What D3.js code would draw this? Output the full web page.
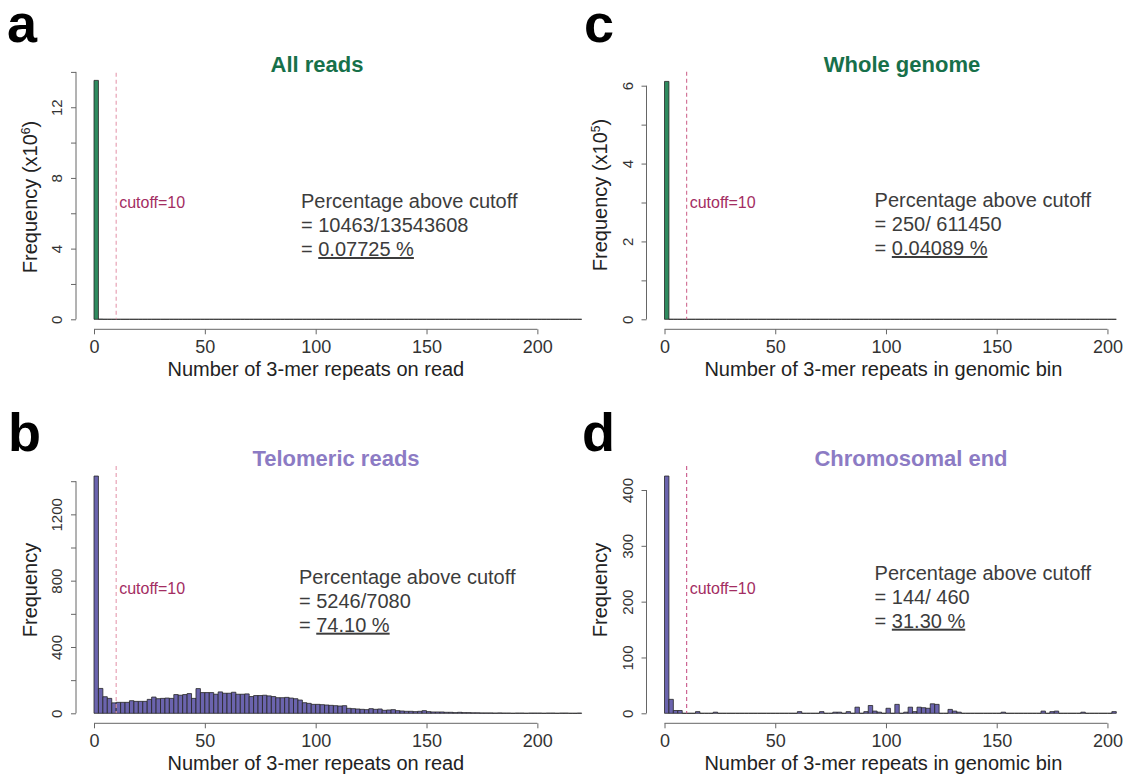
<!DOCTYPE html>
<html>
<head>
<meta charset="utf-8">
<script src="https://cdn.jsdelivr.net/npm/d3@7"></script>
<style>
  html, body { margin: 0; padding: 0; background: #fff; }
  svg { display: block; font-family: "Liberation Sans", Arial, Helvetica, sans-serif; }
</style>
</head>
<body>
<svg id="fig" width="1125" height="774"></svg>
<script>
// every histogram uses bins of width 2 starting at 0
var binWidth = 2;
var cutoff = 10;

// a: all reads, frequency in units of 10^6 (bins 0-220)
var allReadsFreq = [
  13.52, 0.0089, 0.0021, 0.0012, 0.0008, 0.0007, 0.0006, 0.0005, 0.0005, 0.0004,
  0.0004, 0.0004, 0.0003, 0.0003, 0.0003, 0.0003, 0.0003, 0.0003, 0.0002, 0.0002,
  0.0002, 0.0002, 0.0002, 0.0002, 0.0002, 0.0002, 0.0002, 0.0002, 0.0002, 0.0002,
  0.0002, 0.0002, 0.0002, 0.0002, 0.0001, 0.0001, 0.0001, 0.0001, 0.0001, 0.0001,
  0.0001, 0.0001, 0.0001, 0.0001, 0.0001, 0.0001, 0.0001, 0.0001, 0.0001, 0.0001,
  0, 0, 0, 0, 0, 0, 0, 0, 0, 0,
  0, 0, 0, 0, 0, 0, 0, 0, 0, 0,
  0, 0, 0, 0, 0, 0, 0, 0, 0, 0,
  0, 0, 0, 0, 0, 0, 0, 0, 0, 0,
  0, 0, 0, 0, 0, 0, 0, 0, 0, 0,
  0, 0, 0, 0, 0, 0, 0, 0, 0, 0
];

// b: telomeric reads, counts (bins 0-220)
var telomericFreq = [
  1431, 150, 100, 90, 63, 66, 66, 66, 76, 72,
  72, 72, 84, 98, 88, 90, 92, 90, 113, 109,
  113, 119, 90, 149, 125, 125, 125, 115, 129, 121,
  121, 127, 115, 115, 117, 101, 107, 107, 109, 105,
  101, 94, 94, 96, 92, 88, 80, 64, 60, 54,
  54, 52, 50, 48, 46, 44, 46, 30, 28, 26,
  24, 22, 28, 24, 26, 18, 20, 22, 16, 14,
  12, 12, 10, 12, 16, 10, 8, 8, 8, 6,
  6, 4, 6, 4, 4, 3, 3, 2, 2, 2,
  1, 2, 1, 1, 0, 1, 1, 0, 1, 1,
  1, 0, 1, 1, 0, 1, 1, 0, 0, 1
];

// c: whole genome bins, frequency in units of 10^5 (bins 0-204)
var wholeGenomeFreq = [
  6.11, 0.0012, 0.0005, 0.0002, 0.0001, 0.0001, 0.0001, 0.0001, 0, 0,
  0, 0, 0, 0, 0, 0, 0, 0, 0, 0,
  0, 0, 0, 0, 0, 0, 0, 0, 0, 0,
  0, 0, 0, 0, 0, 0, 0, 0, 0, 0,
  0, 0, 0, 0, 0, 0, 0, 0, 0, 0,
  0, 0, 0, 0, 0, 0, 0, 0, 0, 0,
  0, 0, 0, 0, 0, 0, 0, 0, 0, 0,
  0, 0, 0, 0, 0, 0, 0, 0, 0, 0,
  0, 0, 0, 0, 0, 0, 0, 0, 0, 0,
  0, 0, 0, 0, 0, 0, 0, 0, 0, 0,
  0, 0
];

// d: chromosomal end bins, counts (bins 0-204)
var chromEndFreq = [
  425, 25, 5, 5, 0, 0, 0, 3, 0, 0,
  0, 2, 0, 0, 0, 0, 0, 0, 0, 0,
  0, 0, 0, 0, 0, 0, 0, 0, 0, 0,
  3, 0, 0, 0, 0, 3, 0, 0, 2, 2,
  0, 3, 0, 11, 0, 3, 14, 4, 2, 0,
  9, 0, 16, 0, 2, 11, 3, 11, 10, 9,
  17, 16, 0, 0, 7, 4, 2, 0, 0, 0,
  0, 0, 0, 0, 0, 0, 2, 0, 0, 0,
  0, 0, 0, 0, 0, 4, 0, 3, 4, 0,
  0, 0, 0, 0, 2, 0, 0, 0, 0, 0,
  0, 3
];

var xTicks = [0, 50, 100, 150, 200];
var allReadsYTicks = [0, 2, 4, 6, 8, 10, 12, 14];
var allReadsYLabels = [0, 4, 8, 12];
var telomericYTicks = [0, 200, 400, 600, 800, 1000, 1200, 1400];
var telomericYLabels = [0, 400, 800, 1200];
var wholeGenomeYTicks = [0, 1, 2, 3, 4, 5, 6];
var wholeGenomeYLabels = [0, 2, 4, 6];
var chromEndYTicks = [0, 100, 200, 300, 400];
var chromEndYLabels = [0, 100, 200, 300, 400];

var green = '#2f8b5f', greenTitle = '#17704a';
var purple = '#6b64ae', purpleTitle = '#8c7bc4';

var svg = d3.select('#fig');

function drawPanel(p) {
  var g = svg.append('g');
  var xMax = p.data.length * binWidth;
  var x = d3.scaleLinear().domain([0, xMax]).range([p.left, p.right]);
  var y = d3.scaleLinear().domain([0, p.yMax]).range([p.base, p.top]);

  // bars (paths so that empty bins still show as a line on the baseline)
  g.selectAll('path.bar')
    .data(p.data)
    .enter()
    .append('path')
    .attr('class', 'bar')
    .attr('d', function(d, i) {
      var x0 = x(i * binWidth), x1 = x((i + 1) * binWidth);
      return 'M' + x0 + ',' + y(0) + 'V' + y(d) + 'H' + x1 + 'V' + y(0) + 'Z';
    })
    .attr('fill', p.fill)
    .attr('stroke', '#262626')
    .attr('stroke-width', 0.8);

  // cutoff line
  g.append('line')
    .attr('x1', x(cutoff)).attr('x2', x(cutoff))
    .attr('y1', p.cutTop).attr('y2', y(0))
    .attr('stroke', p.cutColor)
    .attr('stroke-width', 1.1)
    .attr('stroke-dasharray', '4,3');
  g.append('text')
    .attr('x', x(cutoff) + 3)
    .attr('y', p.cutLabelY)
    .attr('dy', '0.35em')
    .attr('font-size', 16)
    .attr('fill', '#a32d62')
    .text('cutoff=' + cutoff);

  // y axis
  var yAxis = g.append('g')
    .attr('transform', 'translate(' + p.yAxisX + ',0)')
    .call(d3.axisLeft(y).tickValues(p.yTicks).tickSize(5)
      .tickFormat(function(v) { return p.yLabels.indexOf(v) >= 0 ? v : ''; }));
  yAxis.select('.domain').remove();
  yAxis.append('line')
    .attr('y1', y(p.yTicks[0])).attr('y2', y(p.yTicks[p.yTicks.length - 1]))
    .attr('stroke', '#666');
  yAxis.selectAll('.tick line').attr('stroke', '#666');
  yAxis.selectAll('.tick text')
    .attr('transform', 'rotate(-90)')
    .attr('x', 0).attr('y', -19).attr('dy', '0.35em')
    .attr('text-anchor', 'middle')
    .attr('font-size', 15)
    .attr('font-family', null)
    .attr('fill', '#333');

  // x axis
  var axisY = p.base + 10;
  var xAxis = g.append('g')
    .attr('transform', 'translate(0,' + axisY + ')')
    .call(d3.axisBottom(x).tickValues(xTicks).tickSize(5).tickPadding(4));
  xAxis.select('.domain').remove();
  xAxis.append('line')
    .attr('x1', x(xTicks[0])).attr('x2', x(xTicks[xTicks.length - 1]))
    .attr('stroke', '#666');
  xAxis.selectAll('.tick line').attr('stroke', '#666');
  xAxis.selectAll('.tick text')
    .attr('y', 17).attr('dy', '0.35em')
    .attr('font-size', 18)
    .attr('font-family', null)
    .attr('fill', '#333');

  // axis titles
  g.append('text')
    .attr('x', (p.left + p.right) / 2 + p.xLabelShift)
    .attr('y', axisY + 39.5)
    .attr('dy', '0.35em')
    .attr('text-anchor', 'middle')
    .attr('font-size', 20)
    .attr('fill', '#222')
    .text(p.xLabel);

  var yl = g.append('text')
    .attr('transform', 'translate(' + p.yLabelX + ',' + p.yLabelY + ') rotate(-90)')
    .attr('dy', '0.35em')
    .attr('text-anchor', 'middle')
    .attr('font-size', 20)
    .attr('fill', '#222');
  yl.append('tspan').text('Frequency');
  if (p.yPow) {
    yl.append('tspan').text(' (x10');
    yl.append('tspan').attr('dy', -7).attr('font-size', 12).text(p.yPow);
    yl.append('tspan').attr('dy', 7).text(')');
  }

  // main title
  g.append('text')
    .attr('x', p.titleX).attr('y', p.titleY)
    .attr('dy', '0.35em')
    .attr('text-anchor', 'middle')
    .attr('font-size', 22)
    .attr('font-weight', 'bold')
    .attr('fill', p.titleColor)
    .text(p.title);

  // percentage note
  var note = g.append('text')
    .attr('font-size', 20)
    .attr('fill', '#3c3c3c');
  note.append('tspan').attr('x', p.noteX).attr('y', p.noteY).attr('dy', '0.35em')
    .text('Percentage above cutoff');
  note.append('tspan').attr('x', p.noteX).attr('y', p.noteY + 24).attr('dy', '0.35em')
    .text('= ' + p.ratio);
  note.append('tspan').attr('x', p.noteX).attr('y', p.noteY + 48).attr('dy', '0.35em')
    .text('= ');
  note.append('tspan').style('text-decoration', 'underline').text(p.pct);

  // panel letter
  svg.append('text')
    .attr('x', p.letterX).attr('y', p.letterY)
    .attr('font-size', 54)
    .attr('font-weight', 'bold')
    .attr('fill', '#000')
    .text(p.letter);
}

drawPanel({
  letter: 'a', letterX: 7, letterY: 42,
  data: allReadsFreq, left: 94, right: 581.7, base: 319.3, yMax: 14, top: 71.9,
  yTicks: allReadsYTicks, yLabels: allReadsYLabels, yAxisX: 76, yPow: '6',
  yLabelX: 30, yLabelY: 197,
  fill: green, cutColor: '#e59aae', cutTop: 72.7, cutLabelY: 202.7,
  title: 'All reads', titleColor: greenTitle, titleX: 317, titleY: 64.3,
  xLabel: 'Number of 3-mer repeats on read', xLabelShift: -22,
  noteX: 301, noteY: 201, ratio: '10463/13543608', pct: '0.07725 %'
});

drawPanel({
  letter: 'b', letterX: 8, letterY: 451,
  data: telomericFreq, left: 94, right: 581.7, base: 713.3, yMax: 1400, top: 481.2,
  yTicks: telomericYTicks, yLabels: telomericYLabels, yAxisX: 76, yPow: null,
  yLabelX: 30, yLabelY: 590,
  fill: purple, cutColor: '#e59aae', cutTop: 466, cutLabelY: 588.3,
  title: 'Telomeric reads', titleColor: purpleTitle, titleX: 336, titleY: 458.3,
  xLabel: 'Number of 3-mer repeats on read', xLabelShift: -22,
  noteX: 299, noteY: 576.7, ratio: '5246/7080', pct: '74.10 %'
});

drawPanel({
  letter: 'c', letterX: 584, letterY: 42,
  data: wholeGenomeFreq, left: 664.5, right: 1116.3, base: 319.3, yMax: 6, top: 85.7,
  yTicks: wholeGenomeYTicks, yLabels: wholeGenomeYLabels, yAxisX: 646.5, yPow: '5',
  yLabelX: 599.6, yLabelY: 195,
  fill: green, cutColor: '#cf6a90', cutTop: 71.7, cutLabelY: 202.7,
  title: 'Whole genome', titleColor: greenTitle, titleX: 902, titleY: 64.3,
  xLabel: 'Number of 3-mer repeats in genomic bin', xLabelShift: -7,
  noteX: 874.6, noteY: 200, ratio: '250/ 611450', pct: '0.04089 %'
});

drawPanel({
  letter: 'd', letterX: 582, letterY: 451,
  data: chromEndFreq, left: 664.5, right: 1116.3, base: 713.3, yMax: 400, top: 490,
  yTicks: chromEndYTicks, yLabels: chromEndYLabels, yAxisX: 646.5, yPow: null,
  yLabelX: 599.6, yLabelY: 590,
  fill: purple, cutColor: '#c8578a', cutTop: 466, cutLabelY: 588.3,
  title: 'Chromosomal end', titleColor: purpleTitle, titleX: 911, titleY: 458.3,
  xLabel: 'Number of 3-mer repeats in genomic bin', xLabelShift: -7,
  noteX: 874.6, noteY: 572.7, ratio: '144/ 460', pct: '31.30 %'
});
</script>
</body>
</html>
